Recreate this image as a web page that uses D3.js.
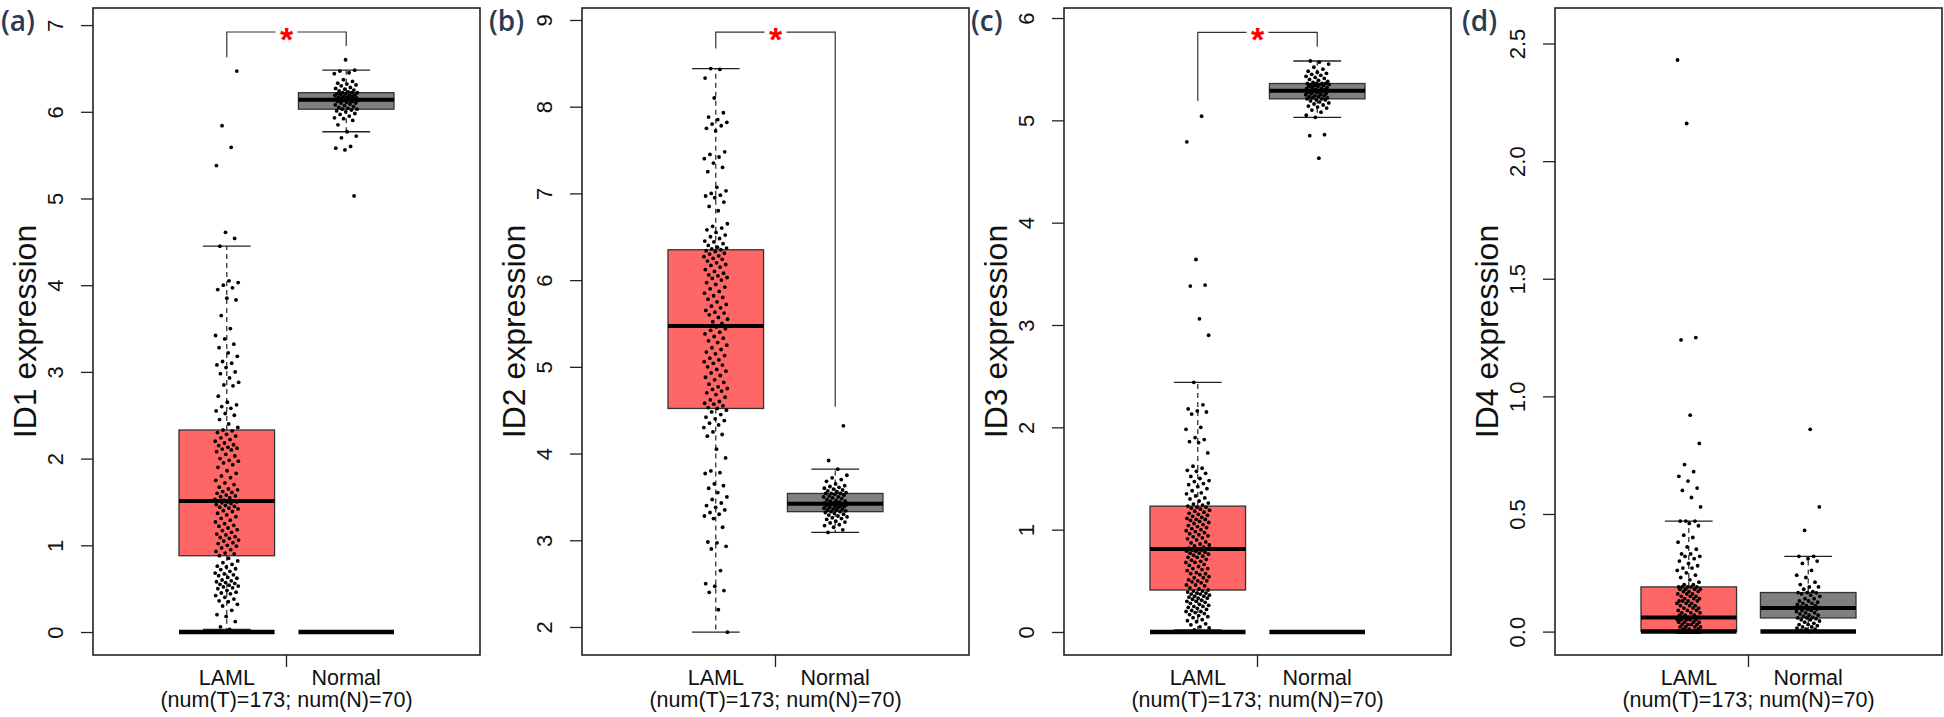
<!DOCTYPE html>
<html>
<head>
<meta charset="utf-8">
<script src="https://cdn.jsdelivr.net/npm/d3@7"></script>
<style>
  body { margin: 0; background: #ffffff; }
  svg { display: block; }
</style>
</head>
<body>
<svg id="chart" width="1944" height="717"></svg>
<script>
// ---------------- DATA ----------------
const groups = ["LAML", "Normal"];
const sampleNote = "(num(T)=173; num(N)=70)";
const panelLabels = ["(a)", "(b)", "(c)", "(d)"];
const genes = ["ID1", "ID2", "ID3", "ID4"];

const yTicksA = [0, 1, 2, 3, 4, 5, 6, 7];
const yTicksB = [2, 3, 4, 5, 6, 7, 8, 9];
const yTicksC = [0, 1, 2, 3, 4, 5, 6];
const yTicksD = [0, 0.5, 1, 1.5, 2, 2.5];

const yDomainA = [-0.265, 7.197];
const yDomainB = [1.677, 9.138];
const yDomainC = [-0.225, 6.098];
const yDomainD = [-0.0995, 2.651];

// significance brackets: [top, LAML end, Normal end]; null = none
const bracketA = [6.92, 6.63, 6.76];
const bracketB = [8.86, 8.67, 4.54];
const bracketC = [5.86, 5.19, 5.72];
const bracketD = null;

const id1Laml = [0.03,0.06,0.12,0.18,0.2,0.25,0.3,0.32,0.35,0.36,0.38,0.4,0.42,0.44,0.45,0.46,0.48,0.5,0.51,0.52,0.53,0.54,0.55,0.56,0.57,0.58,0.59,0.6,0.62,0.63,0.65,0.66,0.67,0.68,0.7,0.72,0.73,0.75,0.76,0.78,0.8,0.82,0.85,
  0.88,
  0.9,0.91,0.93,0.95,0.97,0.99,1.0,1.02,1.03,1.05,1.06,1.08,1.09,1.1,1.12,1.13,1.15,1.17,1.18,1.2,1.22,1.23,1.25,1.27,1.29,1.31,1.33,1.35,1.37,1.39,1.4,1.42,1.43,1.44,1.45,1.46,1.47,1.48,1.49,1.5,1.5,1.51,
  1.51,
  1.52,1.53,1.55,1.56,1.57,1.58,1.6,1.61,1.62,1.64,1.65,1.67,1.7,1.72,1.75,1.78,1.8,1.83,1.86,1.9,1.93,1.95,1.97,1.98,2.0,2.03,2.05,2.08,2.1,2.11,2.12,2.13,2.15,2.16,2.18,2.2,2.22,2.24,2.26,2.28,2.3,2.32,
  2.33,
  2.36,2.4,2.45,2.5,2.52,2.55,2.58,2.6,2.62,2.65,2.72,2.84,2.85,2.88,2.93,2.98,3.0,3.05,3.08,3.1,3.12,3.18,3.22,3.28,3.32,3.38,3.42,3.5,3.65,3.83,3.85,3.95,3.97,4.0,4.03,4.05,4.45,4.54,4.61,5.38,5.59,5.84,6.47];
const id1Normal = [5.03,5.56,5.58,5.6,5.7,5.72,5.77,5.85,5.9,5.92,5.93,5.95,5.97,5.98,6.0,6.01,6.02,
  6.03,6.03,
  6.04,6.05,6.06,6.07,6.08,6.09,6.1,6.1,6.11,6.12,6.12,6.13,6.13,6.14,6.14,
  6.14,6.14,
  6.15,6.15,6.16,6.16,6.17,6.17,6.18,6.18,6.19,6.19,6.2,6.2,6.21,6.21,6.22,
  6.22,6.22,
  6.23,6.24,6.25,6.26,6.27,6.28,6.3,6.31,6.32,6.33,6.35,6.37,6.44,6.45,6.47,6.48,6.6];

const id2Laml = [1.94,2.2,2.4,2.42,2.47,2.5,2.65,2.9,2.93,2.97,2.98,3.15,3.25,3.28,3.3,3.32,3.35,3.38,3.4,3.43,3.47,3.5,3.55,3.6,3.63,3.65,3.77,3.78,3.8,3.95,4.05,4.2,4.22,4.25,4.3,4.33,4.35,4.38,4.4,4.42,4.45,4.48,4.5,
  4.52,
  4.53,4.55,4.57,4.58,4.6,4.62,4.65,4.68,4.7,4.72,4.74,4.75,4.77,4.8,4.82,4.85,4.88,4.9,4.93,4.95,4.97,5.0,5.02,5.04,5.06,5.08,5.1,5.13,5.15,5.17,5.2,5.22,5.25,5.28,5.3,5.33,5.35,5.38,5.4,5.42,5.44,5.46,
  5.47,
  5.5,5.52,5.55,5.57,5.6,5.62,5.63,5.65,5.68,5.7,5.72,5.75,5.78,5.8,5.82,5.85,5.87,5.9,5.92,5.95,5.97,6.0,6.02,6.03,6.05,6.06,6.08,6.1,6.12,6.15,6.17,6.18,6.2,6.22,6.24,6.25,6.27,6.28,6.3,6.31,6.33,6.34,
  6.35,
  6.36,6.37,6.38,6.4,6.42,6.44,6.45,6.48,6.5,6.52,6.55,6.58,6.6,6.62,6.65,6.8,6.85,6.9,6.95,6.97,6.98,7.0,7.03,7.07,7.25,7.3,7.35,7.4,7.42,7.45,7.48,7.72,7.75,7.78,7.8,7.82,7.85,7.88,7.93,8.1,8.33,8.43,8.44];
const id2Normal = [3.09,3.12,3.15,3.17,3.18,3.2,3.21,3.22,3.24,3.25,3.26,3.27,3.28,3.29,3.3,3.31,3.32,
  3.33,3.33,
  3.34,3.35,3.35,3.36,3.36,3.37,3.38,3.38,3.39,3.39,3.4,3.4,3.41,3.41,3.42,
  3.42,3.42,
  3.43,3.43,3.44,3.45,3.45,3.46,3.47,3.48,3.49,3.5,3.5,3.51,3.52,3.53,3.54,
  3.54,3.54,
  3.55,3.56,3.57,3.58,3.59,3.6,3.61,3.62,3.63,3.65,3.68,3.7,3.72,3.75,3.82,3.92,4.32];

const id3Laml = [0.02,0.04,0.05,0.07,0.08,0.1,0.11,0.12,0.14,0.15,0.16,0.17,0.18,0.19,0.2,0.2,0.21,0.22,0.23,0.24,0.25,0.25,0.26,0.27,0.28,0.29,0.3,0.3,0.31,0.32,0.33,0.33,0.34,0.35,0.35,0.36,0.37,0.37,0.38,0.38,0.39,0.4,0.4,
  0.41,
  0.42,0.43,0.45,0.46,0.46,0.48,0.49,0.5,0.5,0.51,0.53,0.53,0.54,0.56,0.57,0.57,0.58,0.6,0.61,0.62,0.62,0.64,0.65,0.66,0.68,0.68,0.69,0.7,0.71,0.73,0.73,0.74,0.75,0.76,0.77,0.77,0.78,0.79,0.79,0.8,0.8,0.81,
  0.81,
  0.82,0.83,0.84,0.85,0.86,0.87,0.88,0.9,0.91,0.92,0.93,0.94,0.95,0.96,0.97,0.98,0.99,1.0,1.01,1.02,1.03,1.04,1.05,1.06,1.07,1.08,1.09,1.1,1.1,1.11,1.12,1.13,1.14,1.15,1.16,1.17,1.18,1.19,1.2,1.21,1.22,1.22,
  1.23,
  1.24,1.25,1.26,1.28,1.3,1.31,1.33,1.35,1.36,1.38,1.4,1.42,1.44,1.45,1.47,1.48,1.5,1.52,1.55,1.57,1.58,1.6,1.62,1.75,1.85,1.86,1.88,1.9,1.98,2.0,2.13,2.15,2.16,2.18,2.22,2.44,2.9,3.06,3.38,3.39,3.64,4.79,5.04];
const id3Normal = [4.63,4.85,4.86,5.03,5.05,5.08,5.1,5.12,5.13,5.14,5.15,5.16,5.17,5.18,5.19,5.2,5.2,
  5.21,5.21,
  5.22,5.22,5.23,5.23,5.24,5.24,5.25,5.25,5.26,5.26,5.27,5.27,5.28,5.28,5.29,
  5.29,5.29,
  5.3,5.3,5.31,5.31,5.32,5.32,5.33,5.33,5.34,5.34,5.35,5.35,5.35,5.36,5.36,
  5.36,5.36,
  5.37,5.38,5.39,5.4,5.41,5.42,5.43,5.44,5.45,5.46,5.47,5.48,5.5,5.52,5.55,5.57,5.58];

const id4Laml = [0,0,0,0,0,0,0,0,0,0,0,0,0,0,0,0,0,0,0,0,0,0,0,0,0,0,0,0,0,0,0,0,0,0,0,0,0,0,0,0,0,0,0,
  0,
  0,0,0,0,0,0,0,0,0,0,0,0,0,0,0,0,0,0,0,0,
  0.01,0.01,0.01,0.02,0.02,0.02,0.02,0.03,0.03,0.03,0.03,0.04,0.04,0.04,0.04,0.05,0.05,0.05,0.05,0.05,0.06,0.06,
  0.06,
  0.06,0.07,0.07,0.07,0.08,0.08,0.08,0.09,0.09,0.09,0.1,0.1,0.1,0.11,0.11,0.11,0.12,0.12,0.12,0.13,0.13,0.13,0.13,0.14,0.14,0.14,0.15,0.15,0.15,0.16,0.16,0.16,0.17,0.17,0.17,0.18,0.18,0.18,0.18,0.19,0.19,0.19,
  0.19,
  0.19,0.2,0.2,0.21,0.22,0.23,0.24,0.25,0.26,0.27,0.27,0.28,0.29,0.3,0.31,0.32,0.32,0.33,0.33,0.35,0.36,0.38,0.4,0.41,0.45,0.46,0.47,0.47,0.47,0.53,0.57,0.6,0.61,0.64,0.66,0.68,0.71,0.8,0.92,1.24,1.25,2.16,2.43];
const id4Normal = [0,0,0.005,0.01,0.01,0.015,0.02,0.02,0.025,0.03,0.03,0.035,0.04,0.045,0.05,0.05,0.055,
  0.058,0.058,
  0.06,0.065,0.07,0.07,0.075,0.08,0.08,0.085,0.09,0.09,0.095,0.095,0.1,0.1,0.1,
  0.1,0.1,
  0.105,0.11,0.11,0.115,0.12,0.12,0.125,0.13,0.13,0.14,0.14,0.15,0.155,0.16,0.165,
  0.166,0.166,
  0.17,0.18,0.19,0.19,0.2,0.21,0.23,0.24,0.26,0.29,0.3,0.31,0.32,0.32,0.43,0.53,0.86];

// ---------------- LAYOUT / STYLE ----------------
const panelLeft = [93, 582, 1064, 1555];
const panelW = 387;
const plotTop = 8, plotBottom = 655;
const xDomain = [-0.12, 3.12];
const boxHalf = 0.4, capHalf = 0.2, jitterHalf = 0.1;
const fillColors = ["#ff6666", "#808080"];
const FONT = "'Liberation Sans', Arial, Helvetica, sans-serif";

const panels = [
  { laml: id1Laml, normal: id1Normal, ticks: yTicksA, dom: yDomainA, fmt: d3.format("d"), bracket: bracketA },
  { laml: id2Laml, normal: id2Normal, ticks: yTicksB, dom: yDomainB, fmt: d3.format("d"), bracket: bracketB },
  { laml: id3Laml, normal: id3Normal, ticks: yTicksC, dom: yDomainC, fmt: d3.format("d"), bracket: bracketC },
  { laml: id4Laml, normal: id4Normal, ticks: yTicksD, dom: yDomainD, fmt: d3.format(".1f"), bracket: bracketD }
];

const svg = d3.select("#chart");
svg.append("rect").attr("width", 1944).attr("height", 717).attr("fill", "#fff");

panels.forEach((p, k) => {
  const L = panelLeft[k];
  const x = d3.scaleLinear().domain(xDomain).range([L, L + panelW]);
  const y = d3.scaleLinear().domain(p.dom).range([plotBottom, plotTop]);
  const g = svg.append("g");

  [p.laml, p.normal].forEach((vals, gi) => {
    const pos = gi + 1;
    const s = vals.slice().sort(d3.ascending);
    const q1 = d3.quantileSorted(s, 0.25);
    const med = d3.quantileSorted(s, 0.5);
    const q3 = d3.quantileSorted(s, 0.75);
    const iqr = q3 - q1;
    const hi = d3.max(s.filter(v => v <= q3 + 1.5 * iqr));
    const lo = d3.min(s.filter(v => v >= q1 - 1.5 * iqr));

    // box
    g.append("rect")
      .attr("x", x(pos - boxHalf)).attr("width", x(pos + boxHalf) - x(pos - boxHalf))
      .attr("y", y(q3)).attr("height", y(q1) - y(q3))
      .attr("fill", fillColors[gi]).attr("stroke", "#333").attr("stroke-width", 1.3);
    // whiskers (dashed)
    [[q3, hi], [q1, lo]].forEach(([a, b]) => {
      g.append("line").attr("x1", x(pos)).attr("x2", x(pos))
        .attr("y1", y(a)).attr("y2", y(b))
        .attr("stroke", "#222").attr("stroke-width", 1.2).attr("stroke-dasharray", "5,4");
      g.append("line").attr("x1", x(pos - capHalf)).attr("x2", x(pos + capHalf))
        .attr("y1", y(b)).attr("y2", y(b))
        .attr("stroke", "#222").attr("stroke-width", 1.3);
    });
    // median
    g.append("line").attr("x1", x(pos - boxHalf)).attr("x2", x(pos + boxHalf))
      .attr("y1", y(med)).attr("y2", y(med))
      .attr("stroke", "#000").attr("stroke-width", 4);
    // zero baseline
    if (p.dom[0] < 0) {
      g.append("line").attr("x1", x(pos - boxHalf)).attr("x2", x(pos + boxHalf))
        .attr("y1", y(0)).attr("y2", y(0))
        .attr("stroke", "#000").attr("stroke-width", 4.5);
    }
    // jittered points (deterministic low-discrepancy jitter)
    const phase = 0.37 * k + 0.21 * gi;
    g.selectAll(null).data(s).enter().append("circle")
      .attr("cx", (d, i) => x(pos + ((((i + 1) * 0.6180339887 + phase) % 1) - 0.5) * 2 * jitterHalf))
      .attr("cy", d => y(d))
      .attr("r", 1.9)
      .attr("fill", "#000");
  });

  // significance bracket
  if (p.bracket) {
    const [bt, e1, e2] = p.bracket;
    const mid = x(1.5), gap = 11;
    const c = "#333";
    g.append("path")
      .attr("d", `M${x(1)},${y(e1)}V${y(bt)}H${mid - gap}M${mid + gap},${y(bt)}H${x(2)}V${y(e2)}`)
      .attr("fill", "none").attr("stroke", c).attr("stroke-width", 1.2);
    g.append("text").attr("x", mid).attr("y", y(bt) + 19)
      .attr("text-anchor", "middle").attr("fill", "#ff0000")
      .attr("font-family", FONT).attr("font-weight", "bold").attr("font-size", 34)
      .text("*");
  }

  // plot frame
  g.append("rect").attr("x", L).attr("y", plotTop).attr("width", panelW).attr("height", plotBottom - plotTop)
    .attr("fill", "none").attr("stroke", "#222").attr("stroke-width", 1.6);

  // y axis
  const ax = g.append("g").attr("transform", `translate(${L},0)`)
    .call(d3.axisLeft(y).tickValues(p.ticks).tickSize(12).tickFormat(p.fmt));
  ax.select(".domain").remove();
  ax.selectAll(".tick line").attr("stroke", "#222").attr("stroke-width", 1.3);
  ax.selectAll(".tick text")
    .attr("x", null).attr("dy", null)
    .attr("transform", "translate(-30,0) rotate(-90)")
    .attr("text-anchor", "middle")
    .attr("font-family", FONT).attr("font-size", 22).attr("fill", "#111");

  // y title
  g.append("text")
    .attr("transform", `translate(${L - 57},${(plotTop + plotBottom) / 2}) rotate(-90)`)
    .attr("text-anchor", "middle")
    .attr("font-family", FONT).attr("font-size", 32).attr("fill", "#111")
    .text(genes[k] + " expression");

  // x axis: single tick between groups + labels
  g.append("line").attr("x1", x(1.5)).attr("x2", x(1.5))
    .attr("y1", plotBottom).attr("y2", plotBottom + 12)
    .attr("stroke", "#222").attr("stroke-width", 1.3);
  groups.forEach((name, gi) => {
    g.append("text").attr("x", x(gi + 1)).attr("y", 685)
      .attr("text-anchor", "middle").attr("font-family", FONT).attr("font-size", 21.5).attr("fill", "#111")
      .text(name);
  });
  g.append("text").attr("x", x(1.5)).attr("y", 707)
    .attr("text-anchor", "middle").attr("font-family", FONT).attr("font-size", 21.5).attr("fill", "#111")
    .text(sampleNote);

  // panel label
  g.append("text").attr("x", Math.max(L - 93, 1)).attr("y", 31)
    .attr("font-family", "'Open Sans', 'Noto Sans', sans-serif").attr("font-weight", 600)
    .attr("font-size", 28).attr("fill", "#2b3b52")
    .text(panelLabels[k]);
});
</script>
</body>
</html>
